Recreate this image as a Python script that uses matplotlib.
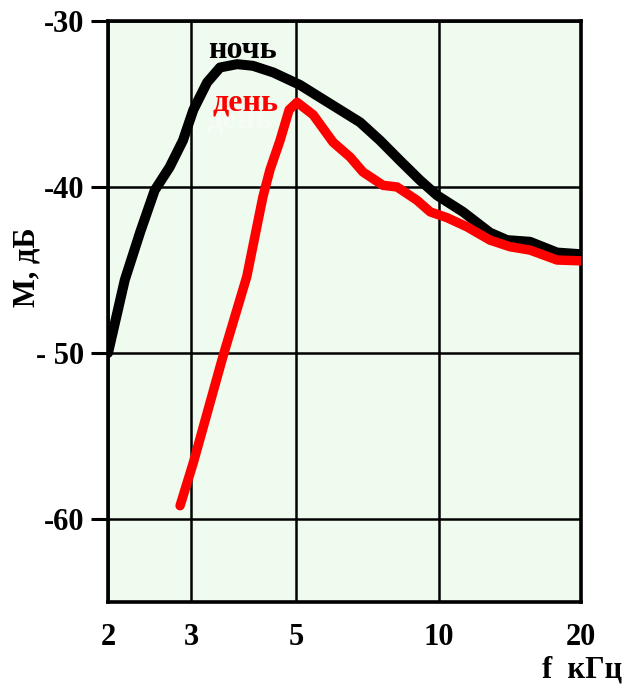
import matplotlib
matplotlib.use("Agg")
import matplotlib.pyplot as plt
from matplotlib.ticker import FixedLocator, FixedFormatter, NullLocator

# Data (frequency in kHz, level in dB)
night_f = [2.00, 2.17, 2.34, 2.51, 2.70, 2.88, 3.03, 3.24, 3.45, 3.75, 4.05, 4.47,
           5.09, 5.61, 6.82, 7.52, 8.28, 9.14, 9.92, 11.26, 12.84, 13.96, 15.6, 17.8, 20.0]
night_m = [-50.0, -45.6, -42.7, -40.2, -38.8, -37.2, -35.35, -33.7, -32.8, -32.6, -32.7, -33.1,
           -33.85, -34.6, -36.1, -37.2, -38.4, -39.6, -40.5, -41.5, -42.75, -43.2, -43.3, -43.95, -44.05]

day_f = [2.84, 3.03, 3.50, 3.93, 4.25, 4.40, 4.62, 4.83, 5.02, 5.43, 5.98, 6.50, 6.92,
         7.63, 8.17, 9.00, 9.60, 10.42, 11.48, 12.84, 14.16, 15.6, 17.8, 20.0]
day_m = [-59.2, -56.6, -50.2, -45.4, -40.6, -38.96, -37.2, -35.35, -34.9, -35.65, -37.3, -38.2, -39.1,
         -39.9, -40.0, -40.8, -41.5, -41.85, -42.4, -43.2, -43.6, -43.8, -44.4, -44.45]

x_ticks = [2, 3, 5, 10, 20]
x_labels = ["2", "3", "5", "10", "20"]
y_ticks = [-30, -40, -50, -60]
y_labels = ["-30", "-40", "- 50", "-60"]

serif = ["Liberation Serif", "DejaVu Serif"]

fig = plt.figure(figsize=(6.23, 6.84), dpi=100)
fig.patch.set_facecolor("white")
ax = fig.add_axes([0.1734, 0.1199, 0.7592, 0.8494])
ax.set_facecolor("#effbee")
ax.set_xscale("log")
ax.set_xlim(2, 20)
ax.set_ylim(-65, -30)

ax.xaxis.set_major_locator(FixedLocator(x_ticks))
ax.xaxis.set_major_formatter(FixedFormatter(x_labels))
ax.xaxis.set_minor_locator(NullLocator())
ax.yaxis.set_major_locator(FixedLocator(y_ticks))
ax.yaxis.set_major_formatter(FixedFormatter(y_labels))
ax.yaxis.set_minor_locator(NullLocator())

ax.grid(True, color="black", linewidth=1.8, zorder=1)
ax.set_axisbelow(True)
for s in ax.spines.values():
    s.set_linewidth(2.6)
    s.set_color("black")

ax.tick_params(axis="x", length=0, pad=15)
ax.tick_params(axis="y", length=12, width=2.2, pad=5)
for lab in ax.get_xticklabels() + ax.get_yticklabels():
    lab.set_family(serif)
    lab.set_fontweight("bold")
    lab.set_fontsize(22)

ax.plot(night_f, night_m, color="black", linewidth=7.2, solid_capstyle="round",
        solid_joinstyle="round", zorder=3)
ax.plot(day_f, day_m, color="#ff0000", linewidth=6.8, solid_capstyle="round",
        solid_joinstyle="round", zorder=4)

ax.text(3.84, -31.75, "ночь", family=serif, fontweight="bold", fontsize=23,
        color="black", ha="center", va="center", zorder=5)
ax.text(3.80, -35.95, "день", family=serif, fontweight="bold", fontsize=23,
        color="white", alpha=0.45, ha="center", va="center", zorder=2)
ax.text(3.91, -34.95, "день", family=serif, fontweight="bold", fontsize=23,
        color="#ff0000", ha="center", va="center", zorder=5)

fig.text(27 / 623, 1 - 267 / 684, "M, дБ", family=serif, fontweight="bold",
         fontsize=22, rotation=90, ha="center", va="center")
fig.text(542 / 623, 1 - 670 / 684, "f  кГц", family=serif, fontweight="bold",
         fontsize=22, ha="left", va="center")

fig.savefig("out.png", dpi=100, facecolor="white")
